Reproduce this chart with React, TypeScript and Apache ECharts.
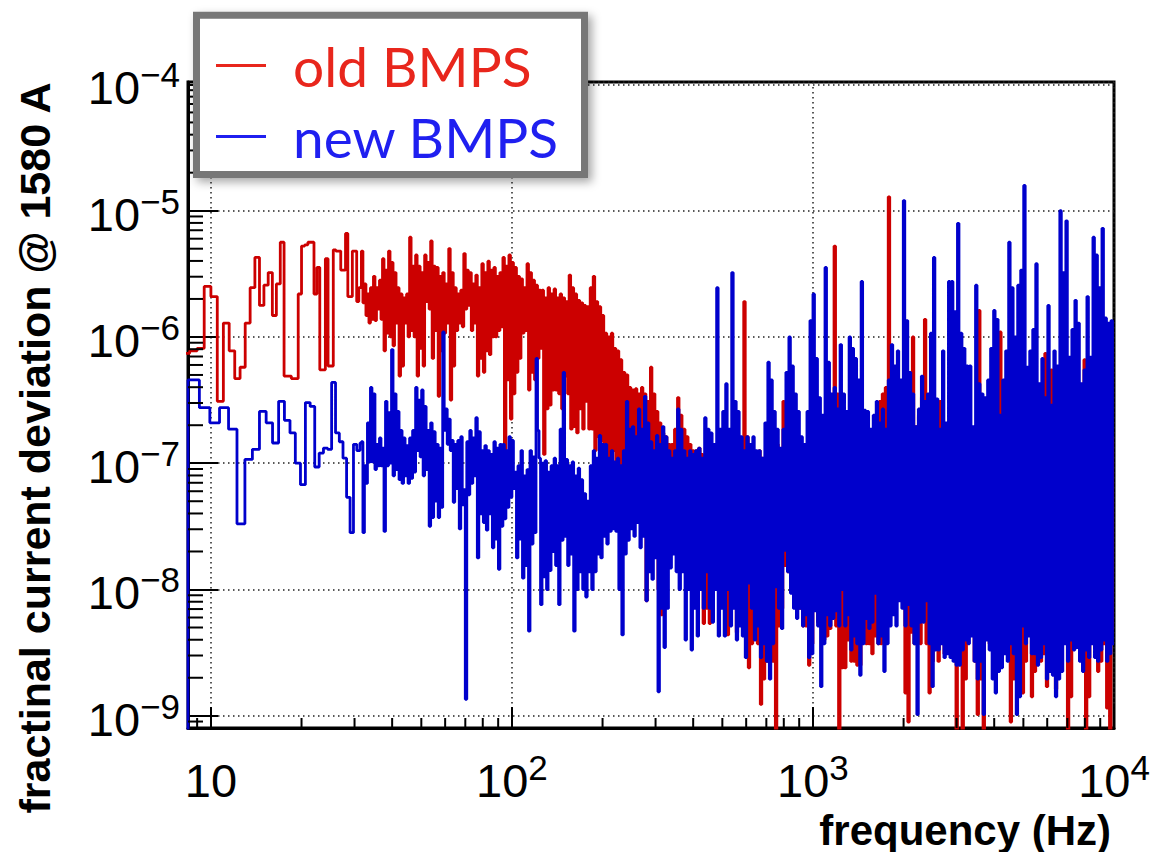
import React, { useEffect, useRef } from 'react';
import * as echarts from 'echarts';

// ---------- axis ranges ----------
const X_MIN = 8.393; // first bin edge (11 x 0.763 Hz)
const X_MAX = 10000;
const Y_MIN = 8e-10;
const Y_MAX = 1.045e-4;
const FLOOR = 1e-10;

// ---------- low-frequency bins (log10 of fractional deviation) ----------
const RED_BIN_START_HZ = 8.0;
const RED_BIN_WIDTH_HZ = 0.5;
const redLowBinsExp = [
  -6.13, -6.11, -6.09, -5.60, -5.68, -6.51, -5.89, -6.11, -6.33, -6.24,
  -5.89, -5.61, -5.37, -5.75, -5.59, -5.49, -5.83, -5.58, -5.25, -6.31,
  -6.31, -6.33, -6.33, -5.66, -5.28, -5.27, -5.25, -5.25, -5.66, -5.45,
  -6.26, -6.26, -5.38, -6.23, -6.23, -5.31, -5.32, -5.32, -5.47, -5.47,
  -5.18, -5.68, -5.68, -5.32, -5.32, -5.72, -5.61,
];

const BLUE_BIN_START_HZ = 8.393;
const BLUE_BIN_WIDTH_HZ = 0.763;
const blueLowBinsExp = [
  -6.34, -6.56, -6.68, -6.56, -6.73, -7.48, -6.97, -6.89, -6.59, -6.68,
  -6.84, -6.51, -6.66, -6.76, -7.00, -7.17, -6.52, -6.55, -7.03, -6.92,
  -6.88, -6.89, -6.36, -6.76, -6.83, -6.96, -7.27, -7.55, -6.85, -6.90,
  -6.84,
];

// ---------- dense region: per column (0.01 decade wide) max / min, log10 ----------
const COL_START_LOG = 1.5;
const COL_STEP_LOG = 0.01;

const redColHiExp = [
  -5.32, -5.58, -5.66, -5.61, -5.52, -5.61, -5.55, -5.38, -5.47, -5.32,
  -5.41, -5.49, -5.61, -5.66, -5.69, -5.66, -5.21, -5.44, -5.35, -5.44,
  -5.49, -5.35, -5.41, -5.24, -5.44, -5.45, -5.52, -5.49, -5.58, -5.30,
  -5.49, -5.61, -5.66, -5.63, -5.34, -5.47, -5.49, -5.58, -5.51, -5.61,
  -5.42, -5.49, -5.40, -5.47, -5.45, -5.52, -5.49, -5.37, -5.44, -5.35,
  -5.41, -5.45, -5.52, -5.54, -5.61, -5.42, -5.49, -5.55, -5.59, -5.63,
  -5.63, -5.69, -5.61, -5.66, -5.62, -5.69, -5.66, -5.69, -5.72, -5.51,
  -5.61, -5.66, -5.71, -5.73, -5.75, -5.76, -5.61, -5.52, -5.72, -5.76,
  -5.83, -5.97, -6.00, -5.97, -6.09, -6.11, -6.18, -6.28, -6.30, -6.40,
  -6.42, -6.41, -6.45, -6.40, -6.45, -6.51, -6.24, -6.45, -6.59, -6.68,
  -6.76, -6.79, -6.85, -6.85, -6.73, -6.48, -6.62, -6.73, -6.79, -6.85,
  -6.90, -6.90, -6.88, -6.93, -6.96, -6.99, -6.96, -6.99, -7.02, -6.99,
  -6.73, -6.90, -6.99, -7.02, -6.99, -7.02, -6.99, -5.72, -6.79, -6.90,
  -7.02, -6.96, -6.90, -6.96, -7.02, -6.90, -6.85, -6.88, -6.85, -6.90,
  -6.51, -6.88, -6.90, -6.85, -6.90, -6.90, -6.85, -6.90, -6.93, -6.68,
  -6.79, -6.96, -6.96, -6.71, -6.73, -6.90, -6.88, -5.28, -6.45, -6.73,
  -6.90, -6.96, -6.90, -6.85, -6.93, -6.57, -6.71, -6.90, -6.93, -6.90,
  -6.85, -6.71, -6.51, -6.45, -6.40, -4.89, -6.68, -6.51, -6.62, -6.79,
  -6.90, -6.73, -6.57, -6.00, -6.71, -6.62, -6.48, -5.86, -6.51, -6.73,
  -6.90, -6.73, -6.51, -6.79, -6.85, -6.90, -6.79, -6.90, -6.85, -6.79,
  -6.90, -6.85, -6.73, -6.90, -6.79, -5.79, -6.85, -6.90, -6.79, -6.73,
  -6.85, -6.79, -5.96, -6.73, -6.90, -6.79, -6.73, -6.85, -6.90, -6.79,
  -6.73, -6.85, -6.90, -6.79, -6.73, -6.85, -6.79, -6.13, -6.73, -6.26,
  -6.85, -6.79, -6.73, -6.90, -6.79, -6.85, -6.73, -6.79, -6.85, -6.73,
  -6.18, -6.79, -6.85, -6.73, -6.79, -6.85, -6.73, -6.79, -6.85, -6.79,
];

const redColLoExp = [
  -5.73, -5.83, -5.89, -5.86, -5.87, -5.78, -5.86, -6.11, -5.97, -6.00,
  -6.07, -5.89, -6.31, -6.23, -5.89, -6.00, -5.95, -6.00, -6.31, -6.09,
  -6.23, -5.72, -5.78, -6.17, -5.95, -6.47, -6.11, -5.97, -5.89, -6.50,
  -6.23, -5.95, -5.89, -5.92, -5.78, -5.75, -5.95, -5.89, -6.31, -6.17,
  -6.28, -6.11, -6.14, -6.00, -6.00, -5.95, -5.92, -6.96, -6.34, -6.65,
  -6.45, -6.28, -6.17, -5.97, -5.95, -6.42, -6.28, -6.34, -6.17, -6.09,
  -6.93, -6.57, -6.54, -6.42, -6.42, -6.45, -6.57, -6.31, -6.45, -6.73,
  -6.71, -6.76, -6.57, -6.73, -6.51, -6.73, -6.73, -6.90, -6.79, -6.82,
  -6.99, -7.02, -6.96, -6.90, -7.04, -7.02, -7.07, -7.02, -7.02, -6.99,
  -7.16, -7.10, -7.10, -7.02, -8.09, -7.30, -7.16, -7.10, -8.00, -8.20,
  -7.30, -7.24, -7.30, -7.58, -7.44, -7.30, -7.44, -7.58, -7.44, -7.52,
  -7.72, -7.86, -7.58, -8.27, -8.15, -8.27, -7.86, -7.58, -7.72, -7.86,
  -7.58, -8.36, -8.15, -7.86, -8.34, -8.12, -8.00, -7.92, -8.62, -8.43,
  -8.29, -8.43, -8.91, -8.71, -8.57, -8.43, -8.57, -9.50, -8.29, -8.15,
  -7.81, -7.86, -8.00, -8.09, -8.09, -8.15, -8.29, -8.29, -8.60, -8.43,
  -8.12, -8.26, -8.26, -8.40, -8.37, -8.31, -8.15, -8.29, -9.50, -8.62,
  -8.62, -8.40, -8.57, -8.57, -8.60, -8.60, -8.12, -8.43, -8.43, -8.51,
  -8.37, -8.43, -8.43, -8.29, -8.03, -8.15, -8.09, -8.09, -7.95, -8.00,
  -8.82, -9.05, -8.34, -8.43, -8.29, -8.43, -7.95, -8.43, -8.82, -8.57,
  -8.43, -8.57, -8.37, -8.51, -8.29, -8.09, -8.37, -9.50, -8.40, -9.50,
  -8.71, -8.06, -8.34, -8.57, -8.99, -8.71, -9.50, -8.20, -8.43, -7.93,
  -8.68, -8.43, -7.95, -8.26, -8.43, -9.05, -8.71, -8.03, -8.43, -8.82,
  -8.57, -8.17, -8.85, -8.65, -8.37, -8.57, -8.51, -8.77, -8.57, -8.00,
  -8.79, -8.57, -8.09, -8.37, -9.50, -8.85, -8.34, -8.43, -8.34, -8.20,
  -9.50, -8.85, -8.12, -8.43, -8.65, -8.57, -8.43, -8.94, -9.50, -8.31,
];

const blueColHiExp = [
  -6.83, -7.02, -6.68, -6.40, -6.45, -6.85, -6.80, -6.88, -6.51, -6.60,
  -6.10, -6.45, -6.59, -6.74, -6.80, -6.86, -6.80, -6.74, -6.40, -6.50,
  -6.42, -6.55, -6.74, -6.68, -6.75, -6.85, -6.88, -5.96, -6.57, -6.65,
  -6.82, -6.85, -6.82, -6.79, -7.21, -6.83, -6.74, -6.80, -6.64, -6.75,
  -6.90, -6.86, -6.90, -6.93, -6.83, -6.88, -6.85, -6.85, -6.90, -6.79,
  -6.82, -7.07, -7.02, -6.90, -7.10, -7.05, -6.90, -6.95, -6.17, -6.96,
  -7.00, -6.98, -7.07, -7.02, -6.96, -7.02, -6.73, -6.28, -6.97, -7.02,
  -6.99, -7.10, -7.04, -7.13, -7.24, -7.30, -7.02, -6.90, -6.96, -6.78,
  -6.85, -6.85, -6.96, -6.90, -6.99, -6.96, -7.02, -6.90, -6.51, -6.73,
  -6.71, -6.79, -6.57, -6.73, -6.47, -6.68, -6.83, -6.90, -6.78, -6.85,
  -6.71, -6.79, -6.90, -6.96, -6.90, -6.57, -6.73, -6.90, -6.96, -6.90,
  -6.93, -6.90, -6.88, -6.96, -6.64, -6.73, -6.76, -6.85, -5.61, -6.73,
  -6.59, -6.37, -6.73, -5.49, -6.51, -6.59, -6.79, -6.90, -6.79, -6.85,
  -6.79, -6.90, -6.90, -6.96, -6.68, -6.20, -6.34, -6.59, -6.73, -6.88,
  -6.73, -6.28, -6.00, -6.23, -6.45, -6.59, -6.79, -6.85, -6.59, -5.87,
  -5.66, -6.17, -6.48, -6.62, -5.45, -6.20, -6.45, -6.40, -6.57, -6.06,
  -6.45, -6.59, -6.00, -6.09, -6.17, -6.34, -5.56, -6.58, -6.59, -6.73,
  -6.62, -6.51, -6.68, -6.57, -6.73, -6.34, -6.06, -6.23, -6.11, -6.34,
  -4.92, -5.87, -6.28, -6.45, -6.71, -6.57, -6.31, -6.51, -6.45, -5.97,
  -5.37, -6.49, -6.73, -6.11, -6.68, -5.56, -5.56, -5.80, -5.10, -5.97,
  -6.09, -6.23, -6.23, -6.71, -5.59, -6.37, -6.45, -6.48, -6.34, -6.09,
  -5.79, -5.86, -6.62, -6.34, -6.11, -5.25, -5.61, -6.00, -5.59, -5.47,
  -4.80, -6.24, -6.11, -5.94, -5.42, -6.37, -6.17, -6.48, -5.75, -6.54,
  -6.11, -6.23, -5.00, -5.49, -5.08, -6.16, -5.94, -5.71, -5.89, -6.37,
  -6.26, -5.68, -6.16, -5.21, -5.35, -5.61, -5.14, -5.85, -5.89, -5.87,
];

const blueColLoExp = [
  -7.55, -7.16, -6.99, -6.99, -7.05, -7.02, -7.02, -7.54, -7.02, -7.00,
  -7.10, -7.05, -7.13, -7.16, -7.10, -7.16, -7.12, -7.07, -6.90, -6.95,
  -7.10, -7.05, -7.50, -7.43, -7.30, -7.43, -7.35, -6.74, -6.85, -6.90,
  -7.31, -7.20, -7.52, -7.33, -8.87, -7.25, -7.16, -7.10, -7.75, -7.40,
  -7.47, -7.53, -7.40, -7.67, -7.60, -7.84, -7.50, -7.44, -7.35, -7.27,
  -7.20, -7.75, -7.60, -7.91, -7.81, -8.33, -7.64, -7.55, -6.74, -8.12,
  -7.90, -8.00, -7.85, -7.70, -7.81, -8.12, -7.61, -7.58, -7.81, -7.72,
  -8.33, -8.00, -7.86, -8.00, -8.06, -7.86, -8.00, -7.86, -7.72, -7.75,
  -7.58, -7.64, -7.54, -7.52, -7.54, -8.00, -8.36, -7.72, -7.61, -7.52,
  -7.58, -7.47, -7.67, -7.58, -8.09, -7.86, -7.92, -7.75, -8.81, -8.15,
  -8.46, -8.15, -7.83, -7.72, -7.86, -8.00, -7.86, -8.40, -8.00, -8.48,
  -8.15, -8.37, -8.00, -8.15, -7.86, -8.15, -8.26, -8.00, -8.37, -8.15,
  -8.37, -8.00, -8.29, -8.15, -8.40, -8.29, -8.37, -8.54, -7.95, -8.15,
  -8.40, -8.29, -8.54, -8.43, -8.57, -8.71, -8.43, -7.98, -8.15, -8.31,
  -7.69, -7.86, -8.03, -8.15, -8.23, -8.15, -8.29, -8.20, -8.54, -8.51,
  -8.17, -8.29, -8.77, -8.43, -8.20, -8.29, -8.23, -8.17, -8.29, -8.00,
  -8.29, -8.20, -8.48, -8.37, -8.43, -8.68, -8.43, -8.23, -8.31, -8.26,
  -8.03, -8.43, -8.37, -8.65, -8.43, -8.29, -8.20, -8.29, -8.09, -8.15,
  -8.29, -8.12, -8.29, -8.43, -8.99, -8.26, -8.26, -8.09, -8.43, -8.77,
  -8.48, -8.48, -8.43, -8.54, -8.51, -8.54, -8.57, -8.60, -8.60, -8.48,
  -8.40, -8.43, -8.37, -8.57, -8.71, -8.57, -8.99, -8.40, -8.48, -8.71,
  -8.82, -8.65, -8.62, -8.51, -8.57, -8.43, -8.51, -8.99, -8.85, -8.29,
  -8.43, -8.37, -8.51, -8.51, -8.60, -8.54, -8.43, -8.71, -8.65, -8.68,
  -8.85, -8.71, -8.65, -8.43, -8.57, -8.40, -8.48, -8.46, -8.57, -8.65,
  -8.48, -8.54, -8.43, -8.54, -8.57, -8.48, -8.40, -8.57, -8.51, -8.43,
];

// ---------- tick positions ----------
const xMinorTicks = [9, 20, 30, 40, 50, 60, 70, 80, 90, 200, 300, 400, 500, 600, 700, 800, 900,
  2000, 3000, 4000, 5000, 6000, 7000, 8000, 9000];
const yMinorMantissas = [2, 3, 4, 5, 6, 7, 8, 9];
const yMinorDecades = [-9, -8, -7, -6, -5];

// ---------- texts ----------
const Y_TITLE = 'fractinal current deviation @ 1580 A';
const X_TITLE = 'frequency (Hz)';
const RED_NAME = 'old BMPS';
const BLUE_NAME = 'new BMPS';

const RED = '#cc0000';
const BLUE = '#0000cc';
const LEG_RED = '#e8261c';
const LEG_BLUE = '#1f1ff0';
const AX_FONT = '"Liberation Sans", Arial, Helvetica, sans-serif';

function buildPoints(binStart: number, binWidth: number, bins: number[], hi: number[], lo: number[]) {
  const pts: number[][] = [[binStart, FLOOR]];
  bins.forEach((e, i) => pts.push([binStart + i * binWidth, Math.pow(10, e)]));
  hi.forEach((e, c) => {
    const l0 = COL_START_LOG + c * COL_STEP_LOG;
    pts.push([Math.pow(10, l0), Math.pow(10, e)]);
    pts.push([Math.pow(10, l0 + COL_STEP_LOG / 2), Math.pow(10, lo[c])]);
  });
  pts.push([Math.pow(10, COL_START_LOG + hi.length * COL_STEP_LOG), Math.pow(10, lo[lo.length - 1])]);
  return pts;
}

function powLabel(v: number) {
  const l = Math.log10(v);
  const e = Math.round(l);
  if (Math.abs(l - e) > 1e-6) return '';
  if (e === 1) return '{b|10}';
  return '{b|10}{s|' + (e < 0 ? '\u2212' + -e : String(e)) + '}';
}

const labelRich = {
  b: { fontSize: 47, lineHeight: 54, fontFamily: AX_FONT, color: '#000', verticalAlign: 'bottom' },
  s: { fontSize: 35, lineHeight: 35, fontFamily: AX_FONT, color: '#000', verticalAlign: 'top' },
};

export default function App() {
  const ref = useRef<HTMLDivElement>(null);
  useEffect(() => {
    if (!ref.current) return;
    const chart = echarts.init(ref.current, undefined, { renderer: 'svg' });
    const redPts = buildPoints(RED_BIN_START_HZ, RED_BIN_WIDTH_HZ, redLowBinsExp, redColHiExp, redColLoExp);
    const bluePts = buildPoints(BLUE_BIN_START_HZ, BLUE_BIN_WIDTH_HZ, blueLowBinsExp, blueColHiExp, blueColLoExp);
    const yMinorTicks: number[] = [9e-10];
    yMinorDecades.forEach((d) => yMinorMantissas.forEach((m) => yMinorTicks.push(m * Math.pow(10, d))));

    const gridLine = { show: true, lineStyle: { color: '#222', width: 1.5, type: [1.5, 3.5] } };

    chart.setOption({
      animation: false,
      backgroundColor: '#ffffff',
      grid: {
        left: 188, right: 40, top: 82, bottom: 124,
        show: true, borderColor: '#000', borderWidth: 3, outerBoundsMode: 'none',
      },
      xAxis: {
        type: 'log', logBase: 10, min: X_MIN, max: X_MAX, splitNumber: 3,
        axisLine: { show: true, lineStyle: { color: '#000', width: 3 } },
        axisTick: { show: true, inside: true, length: 21, lineStyle: { color: '#000', width: 2 } },
        axisLabel: { margin: 22, formatter: powLabel, rich: labelRich, interval: 0 },
        splitLine: gridLine,
        minorTick: { show: false },
      },
      yAxis: {
        type: 'log', logBase: 10, min: Y_MIN, max: Y_MAX, splitNumber: 5,
        axisLine: { show: true, lineStyle: { color: '#000', width: 3 } },
        axisTick: { show: true, inside: true, length: 30, lineStyle: { color: '#000', width: 2 } },
        axisLabel: { margin: 8, formatter: powLabel, rich: labelRich, interval: 0 },
        splitLine: gridLine,
        minorTick: { show: false },
      },
      legend: {
        orient: 'vertical', left: 216, top: 38, padding: 0, z: 12,
        itemWidth: 50, itemHeight: 3, itemGap: 16,
        icon: 'rect', selectedMode: false,
        textStyle: { fontFamily: 'Lato, "Open Sans", sans-serif', fontSize: 55, padding: [0, 0, 0, 22] },
        data: [
          { name: RED_NAME, itemStyle: { color: LEG_RED }, textStyle: { color: LEG_RED, padding: [0, 0, 0, 22] } },
          { name: BLUE_NAME, itemStyle: { color: LEG_BLUE }, textStyle: { color: LEG_BLUE, padding: [0, 0, 0, 22] } },
        ],
      },
      graphic: [
        {
          type: 'rect', z: 10,
          shape: { x: 196.5, y: 15.2, width: 388, height: 159.3 },
          style: {
            fill: '#ffffff', stroke: '#777777', lineWidth: 7,
            shadowBlur: 10, shadowColor: 'rgba(0,0,0,0.35)', shadowOffsetX: 4, shadowOffsetY: 4,
          },
        },
        {
          type: 'text', z: 10, x: 35, y: 448, rotation: Math.PI / 2,
          style: {
            text: Y_TITLE, fill: '#000', font: 'bold 43px ' + AX_FONT,
            align: 'center', verticalAlign: 'middle', textAlign: 'center', textVerticalAlign: 'middle',
          },
        },
        {
          type: 'text', z: 10, x: 1111, y: 830,
          style: {
            text: X_TITLE, fill: '#000', font: 'bold 42px ' + AX_FONT,
            align: 'right', verticalAlign: 'middle', textAlign: 'right', textVerticalAlign: 'middle',
          },
        },
      ],
      series: [
        {
          name: RED_NAME, type: 'line', step: 'end', data: redPts, symbol: 'none', showSymbol: false,
          lineStyle: { color: RED, width: 2.8 }, itemStyle: { color: RED }, silent: true, z: 2,
        },
        {
          name: BLUE_NAME, type: 'line', step: 'end', data: bluePts, symbol: 'none', showSymbol: false,
          lineStyle: { color: BLUE, width: 2.8 }, itemStyle: { color: BLUE }, silent: true, z: 3,
        },
        {
          type: 'custom', coordinateSystem: 'cartesian2d', silent: true, z: 6, clip: false,
          data: xMinorTicks.map((v) => [v, Y_MIN]),
          renderItem: (_p: any, api: any) => {
            const p = api.coord([api.value(0), api.value(1)]);
            return { type: 'line', shape: { x1: p[0], y1: p[1], x2: p[0], y2: p[1] - 10 }, style: { stroke: '#000', lineWidth: 2 } };
          },
        },
        {
          type: 'custom', coordinateSystem: 'cartesian2d', silent: true, z: 6, clip: false,
          data: yMinorTicks.map((v) => [X_MIN, v]),
          renderItem: (_p: any, api: any) => {
            const p = api.coord([api.value(0), api.value(1)]);
            return { type: 'line', shape: { x1: p[0], y1: p[1], x2: p[0] + 15, y2: p[1] }, style: { stroke: '#000', lineWidth: 2 } };
          },
        },
      ],
    });
    return () => chart.dispose();
  }, []);
  return <div ref={ref} style={{ position: 'absolute', left: 0, top: 0, width: 1154, height: 852 }} />;
}
